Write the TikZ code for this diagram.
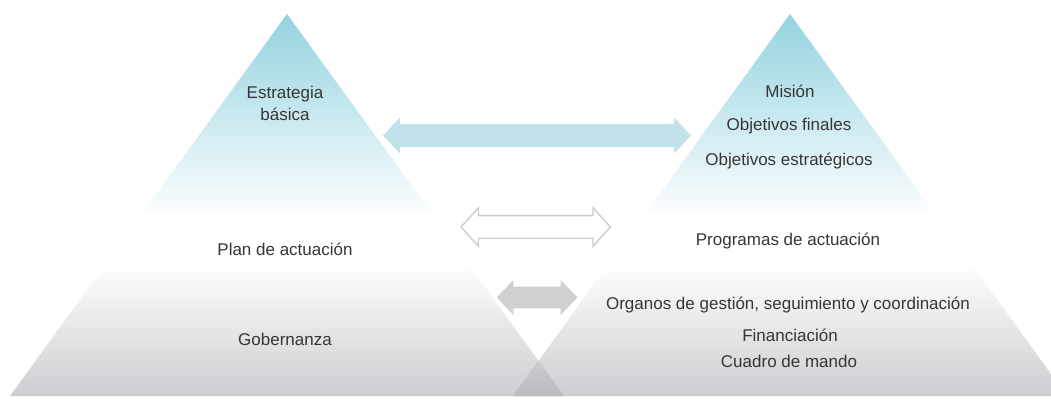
\documentclass[tikz,border=0pt]{standalone}
\usepackage{fontspec}
\setmainfont{Liberation Sans}
\definecolor{cyantop}{HTML}{94D3E0}
\definecolor{cyanmid}{HTML}{C2E4EC}
\definecolor{cyanbot}{HTML}{FBFDFE}
\definecolor{greytop}{HTML}{FFFFFF}
\definecolor{greymid}{HTML}{E6E7E8}
\definecolor{greybot}{HTML}{CDCED1}
\definecolor{ovtop}{HTML}{CACBCD}
\definecolor{ovbot}{HTML}{BABBBE}
\definecolor{arrcyan}{HTML}{C1E2EB}
\definecolor{arrgrey}{HTML}{CFD0D2}
\definecolor{arroutline}{HTML}{CDCDCD}
\definecolor{txt}{HTML}{363636}
% double arrow outline: #1 left tip x, #2 right tip x, #3 centre y, #4 shaft half, #5 head half, #6 head length
\newcommand\dblarrowpath[6]{%
  (#1,#3) -- ({#1+#6},{#3-#5}) -- ({#1+#6},{#3-#4}) -- ({#2-#6},{#3-#4}) --
  ({#2-#6},{#3-#5}) -- (#2,#3) -- ({#2-#6},{#3+#5}) -- ({#2-#6},{#3+#4}) --
  ({#1+#6},{#3+#4}) -- ({#1+#6},{#3+#5}) -- cycle}
\tikzset{
  lbl/.style={anchor=base, text=txt, font=\fontsize{17}{20}\selectfont, inner sep=0pt},
  topband/.style={shading=axis, top color=cyantop, middle color=cyanmid, bottom color=cyanbot, draw=none},
  lowband/.style={shading=axis, top color=greytop, middle color=greymid, bottom color=greybot, draw=none},
}
\begin{document}
\begin{tikzpicture}[x=1pt,y=-1pt]
\useasboundingbox (0,0) rectangle (1051,419);
\fill[white] (0,0) rectangle (1051,419);
\clip (0,0) rectangle (1051,419);
% left pyramid
\path[topband] (287,14) -- (430.6,212) -- (143.4,212) -- cycle;
\path[lowband] (107.2,262) -- (466.8,262) -- (564,396) -- (10,396) -- cycle;
% right pyramid
\path[topband] (790,14) -- (933.6,212) -- (646.4,212) -- cycle;
\path[lowband] (610.2,262) -- (969.8,262) -- (1067,396) -- (513,396) -- cycle;
% overlap
\path[shading=axis, top color=ovtop, bottom color=ovbot] (538.5,360.8) -- (564,396) -- (513,396) -- cycle;
% arrows
\fill[arrcyan] \dblarrowpath{383}{691}{135.5}{11.5}{18}{17};
\draw[arroutline, line width=1.4pt, fill=white, line join=miter] \dblarrowpath{461}{610.5}{227}{11.3}{19.3}{17.5};
\fill[arrgrey] \dblarrowpath{496.7}{577.3}{297.5}{10.8}{17.5}{16.6};
% labels left
\node[lbl] (est) at (285,99) {Estrategia};
\node[lbl] (bas) at (285,121) {básica};
\node[lbl] (plan) at (285,256) {Plan de actuación};
\node[lbl] (gob) at (285,345) {Gobernanza};
% labels right
\node[lbl] (mis) at (790,98) {Misión};
\node[lbl] (objf) at (789,131) {Objetivos finales};
\node[lbl] (obje) at (789,166) {Objetivos estratégicos};
\node[lbl] (prog) at (788,246) {Programas de actuación};
\node[lbl] (org) at (788,309) {Organos de gestión, seguimiento y coordinación};
\node[lbl] (fin) at (790,341) {Financiación};
\node[lbl] (cua) at (789,367) {Cuadro de mando};
\end{tikzpicture}
\end{document}
